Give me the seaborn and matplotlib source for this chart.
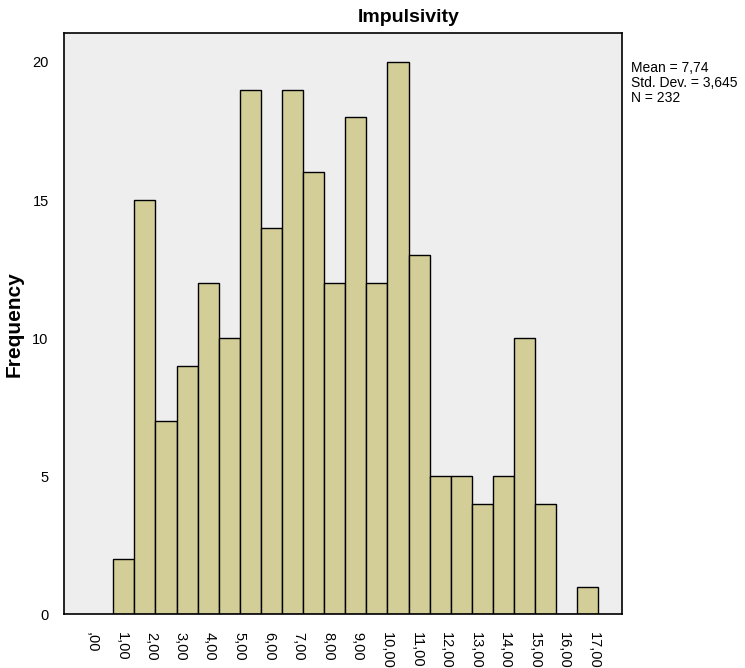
import numpy as np
import pandas as pd
import matplotlib
matplotlib.use('Agg')
import matplotlib.pyplot as plt
import seaborn as sns

# histogram data
counts = [2, 15, 7, 9, 12, 10, 19, 14, 19, 16, 12, 18, 12, 20, 13, 5, 5, 4, 5, 10, 4, 0, 1]
bin_start = 0.72
bin_width = 0.715
tick_values = list(range(0, 18))
tick_labels = [',00'] + ['%d,00' % v for v in range(1, 18)]
y_ticks = [0, 5, 10, 15, 20]
stats_lines = ['Mean = 7,74', 'Std. Dev. = 3,645', 'N = 232']

edges = [bin_start + bin_width * i for i in range(len(counts) + 1)]
centers = [(edges[i] + edges[i + 1]) / 2 for i in range(len(counts))]
df = pd.DataFrame({'impulsivity': centers, 'n': counts})

sns.set_style('white')
plt.rcParams['font.family'] = ['Liberation Sans', 'DejaVu Sans']
plt.rcParams['text.color'] = 'black'
plt.rcParams['axes.labelcolor'] = 'black'
plt.rcParams['xtick.color'] = 'black'
plt.rcParams['ytick.color'] = 'black'

fig = plt.figure(figsize=(7.45, 6.68), dpi=100)
ax = fig.add_axes([64 / 745, 1 - 614.3 / 668, (621.7 - 64) / 745, (614.3 - 33) / 668])
ax.set_facecolor('#eeeeee')

sns.histplot(data=df, x='impulsivity', weights='n', bins=edges, color='#d3ce97',
             edgecolor='black', linewidth=1, alpha=1, ax=ax)

ax.set_xlim(-0.949, 17.956)
ax.set_ylim(0, 21.05)
ax.set_xticks(tick_values)
ax.set_xticklabels(tick_labels, rotation=270, fontsize=10.5)
ax.set_yticks(y_ticks)
ax.set_yticklabels([str(v) for v in y_ticks], fontsize=10.5)
ax.tick_params(axis='both', direction='out', length=8, width=1, color='black', pad=3)
ax.tick_params(axis='x', pad=5)
for s in ax.spines.values():
    s.set_color('black')
    s.set_linewidth(1.2)

ax.set_xlabel('')
ax.set_ylabel('Frequency', fontsize=15, fontweight='bold')
ax.yaxis.set_label_coords(-0.073, 0.5)

fig.text(409 / 745, 1 - 17 / 668, 'Impulsivity', ha='center', va='center',
         fontsize=14, fontweight='bold')
fig.text(631 / 745, 1 - 61 / 668, '\n'.join(stats_lines), ha='left', va='top',
         fontsize=10, linespacing=1.08)

fig.savefig('out.png', dpi=100)
